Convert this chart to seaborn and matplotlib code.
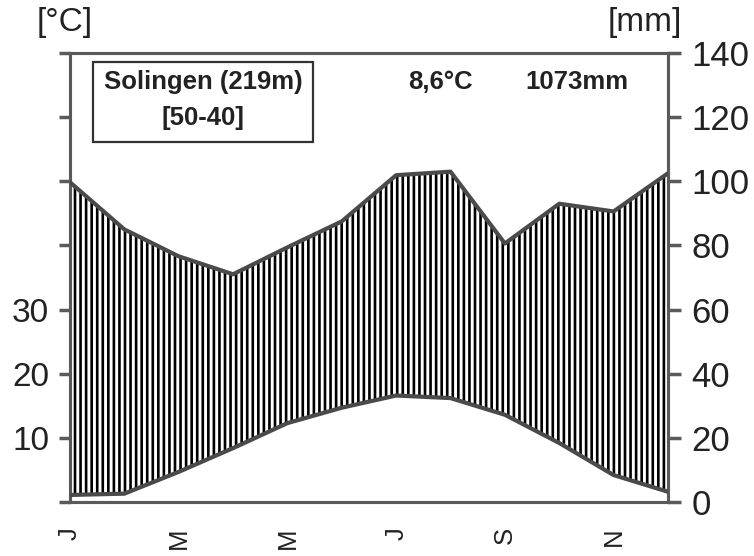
import numpy as np
import pandas as pd
import matplotlib
matplotlib.use("Agg")
import matplotlib.pyplot as plt
import seaborn as sns

months = ["J", "F", "M", "A", "M", "J", "J", "A", "S", "O", "N", "D"]
month_labels = ["J", "", "M", "", "M", "", "J", "", "S", "", "N", ""]
temperature = [1.1, 1.3, 4.7, 8.4, 12.3, 14.7, 16.6, 16.2, 13.6, 9.2, 4.2, 1.6]
precipitation = [99.7, 85.0, 76.6, 71.0, 79.4, 87.5, 101.9, 103.0, 80.6, 93.0, 90.6, 102.5]
temp_ticks = [0, 10, 20, 30, 40, 50, 60, 70]
temp_tick_labels = ["", "10", "20", "30", "", "", "", ""]
prec_ticks = [0, 20, 40, 60, 80, 100, 120, 140]
station = "Solingen (219m)"
period = "[50-40]"
mean_temp = "8,6°C"
total_prec = "1073mm"

sns.set_style("white")
plt.rcParams["font.family"] = ["Liberation Sans", "DejaVu Sans"]
plt.rcParams["hatch.linewidth"] = 1.9
plt.rcParams["hatch.color"] = "black"

df = pd.DataFrame({"m": np.arange(12), "T": temperature, "P": precipitation})
df["T_mm"] = df["T"] * 2  # Walter-Lieth scale 10°C = 20mm

fig = plt.figure(figsize=(7.54, 5.56), dpi=100)
ax = fig.add_axes([0.0928, 0.0971, 0.7931, 0.8076])
ax2 = ax.twinx()

line_col = "#4a4a4a"
spine_col = "#5a5a5a"

ax2.fill_between(df["m"], df["T_mm"], df["P"], facecolor="white",
                 edgecolor="black", linewidth=0, hatch="|||", zorder=1)
sns.lineplot(data=df, x="m", y="P", ax=ax2, color=line_col, linewidth=3.0, zorder=3)
sns.lineplot(data=df, x="m", y="T_mm", ax=ax2, color=line_col, linewidth=3.0, zorder=3)

ax.set_xlim(0, 11)
ax.set_ylim(0, 70)
ax2.set_ylim(0, 140)
ax2.set_xlim(0, 11)

ax.set_xticks(range(12))
ax.set_xticklabels(month_labels, rotation=90, fontsize=18.5, color="#222")
ax.set_yticks(temp_ticks)
ax.set_yticklabels(temp_tick_labels, fontsize=24, color="#222")
ax2.set_yticks(prec_ticks)
ax2.set_yticklabels([str(v) for v in prec_ticks], fontsize=25, color="#222")
ax.set_xlabel("")
ax.set_ylabel("")
ax2.set_xlabel("")
ax2.set_ylabel("")

ax.tick_params(axis="x", direction="out", length=9, width=2.5, color=spine_col, pad=9)
ax.tick_params(axis="y", direction="out", length=8, width=2.5, color=spine_col, pad=7)
ax2.tick_params(axis="y", direction="out", length=9, width=2.5, color=spine_col, pad=8)

for a in (ax, ax2):
    for s in a.spines.values():
        s.set_color(spine_col)
        s.set_linewidth(2.2)

fig.text(65 / 754, 1 - 23 / 556, "[°C]", fontsize=24, color="#222", ha="center", va="center")
fig.text(645 / 754, 1 - 23 / 556, "[mm]", fontsize=24, color="#222", ha="center", va="center")

fig.text(203 / 754, 1 - 82 / 556, station, fontsize=18.5, fontweight="bold", color="#222",
         ha="center", va="center")
fig.text(203 / 754, 1 - 118 / 556, period, fontsize=18.5, fontweight="bold", color="#222",
         ha="center", va="center")
box = plt.Rectangle((93 / 754, 1 - 142 / 556), (313 - 93) / 754, 80 / 556,
                    transform=fig.transFigure, fill=False, edgecolor="#333", linewidth=1.6)
fig.add_artist(box)
fig.text(440 / 754, 1 - 82 / 556, mean_temp, fontsize=18.5, fontweight="bold", color="#222",
         ha="center", va="center")
fig.text(577 / 754, 1 - 82 / 556, total_prec, fontsize=18.5, fontweight="bold", color="#222",
         ha="center", va="center")

fig.savefig("out.png", dpi=100)
